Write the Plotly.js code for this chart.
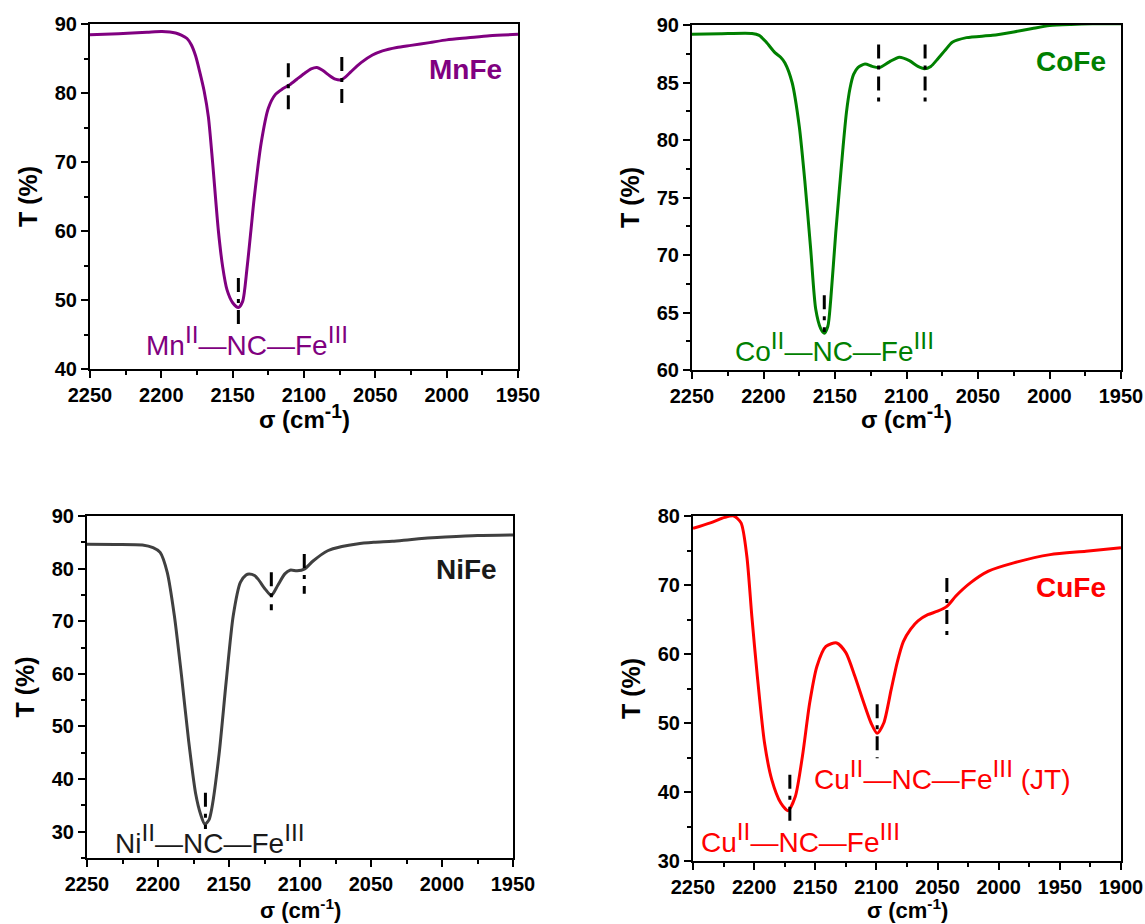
<!DOCTYPE html>
<html>
<head>
<meta charset="utf-8">
<script src="https://cdn.plot.ly/plotly-3.0.1.min.js"></script>
<style>html,body{margin:0;padding:0;background:#fff;}#plot{width:1145px;height:924px;}</style>
</head>
<body>
<div id="plot"></div>
<script>
// ---------- DATA ----------
const mnWn = [2250,2230,2210,2200,2194,2190,2186,2182,2179,2176,2173,2170,2167,2164,2160,2157,2154,2150,2146,2143,2140,2137,2135,2130,2125,2120,2115,2110,2105,2100,2095,2091,2087,2082,2078,2074,2071,2067,2060,2052,2045,2035,2025,2012,2000,1985,1970,1950];
const mnT  = [88.45,88.6,88.8,88.9,88.85,88.7,88.4,87.9,87.0,85.4,83.0,80.3,76.5,69.8,60.0,54.8,51.5,49.6,48.9,49.8,54.5,60.5,64.6,72.8,77.8,79.8,80.6,81.2,82.0,82.8,83.5,83.7,83.3,82.5,82.0,81.9,82.3,83.1,84.4,85.5,86.1,86.6,86.9,87.3,87.7,88.0,88.3,88.5];
const mnMarkX   = [2146, 2111, 2073.5];
const mnMarkTop = [53.2, 84.3, 85.2];
const mnMarkBot = [46.0, 76.8, 77.7];

const coWn = [2250,2230,2208,2203,2198,2192,2188,2185,2180,2175,2171,2167,2163.5,2160,2157.5,2155,2153,2149.5,2144.5,2142,2139.5,2137,2134,2129,2124,2119,2112,2105,2098,2092,2087.5,2083,2078.5,2073,2068,2058,2040,2025,2012,2000,1985,1970,1950];
const coT  = [89.2,89.25,89.27,89.1,88.5,87.6,87.2,86.7,85.0,81.2,76.3,70.5,65.3,63.6,63.2,63.8,66.1,71.9,79.2,82.4,84.5,85.7,86.3,86.6,86.4,86.3,86.8,87.2,86.9,86.4,86.2,86.4,87.0,87.8,88.5,88.9,89.1,89.4,89.7,89.95,90.05,90.1,90.1];
const coMarkX   = [2157.5, 2119.5, 2087];
const coMarkTop = [66.5, 88.3, 88.3];
const coMarkBot = [63.3, 82.8, 83.0];

const niWn = [2250,2230,2211,2203.5,2198.5,2193.5,2188.5,2183.5,2178.4,2173.4,2170,2167,2164,2162,2157,2152,2147,2142,2138,2135.8,2132,2129.5,2124.5,2120.2,2115.7,2110.7,2107,2102,2097,2090.6,2080.5,2070.5,2060,2048,2035,2022.8,2010,1997.7,1975,1950];
const niT  = [84.65,84.6,84.5,84.0,83.1,79.3,71.1,59.8,47.2,37.1,33.3,31.4,32.3,34.6,44.7,58.5,71.1,77.4,78.8,79.0,78.7,78.0,76.1,74.9,76.8,79.0,79.7,79.6,79.9,81.5,83.4,84.2,84.7,85.0,85.2,85.5,85.8,86.0,86.3,86.4];
const niMarkX   = [2166.6, 2120.2, 2097];
const niMarkTop = [37.4, 79.3, 82.8];
const niMarkBot = [30.5, 72.1, 75.2];

const cuWn = [2250,2235.8,2224,2216.6,2210.7,2206,2201.9,2197.4,2191.5,2185.6,2178.2,2172.3,2166.4,2160.5,2154.6,2148.7,2141.3,2132.5,2125,2117.7,2110.3,2104.4,2099.4,2094,2088,2083,2078,2072,2066,2058,2050,2042.4,2035,2023.2,2008.4,1987.7,1958,1928.7,1900];
const cuT  = [78.2,79.0,79.8,80.0,79.0,74.2,65.5,56.8,47.1,41.8,38.4,37.3,39.3,45.2,52.9,58.2,61.1,61.6,60.2,56.8,52.9,50.0,48.5,50.0,54.8,58.8,61.8,63.6,64.8,65.7,66.2,66.9,68.4,70.3,72.0,73.2,74.4,74.9,75.4];
const cuMarkX   = [2170.8, 2099.4, 2042.4];
const cuMarkTop = [42.5, 52.7, 71.0];
const cuMarkBot = [35.5, 44.9, 62.6];

const panelNames = ['MnFe','CoFe','NiFe','CuFe'];
const xTitleTopText = 'σ (cm<sup><span style="font-size:115%">-1</span></sup>)';
const xTitleBotText = 'σ (cm<sup>-1</sup>)';
const yTitle = 'T (%)';
const S = t => '<sup><span style="font-size:125%">' + t + '</span></sup>';
const bondLabels = [
  'Mn' + S('II') + '—NC—Fe' + S('III'),
  'Co' + S('II') + '—NC—Fe' + S('III'),
  'Ni' + S('II') + '—NC—Fe' + S('III'),
  'Cu' + S('II') + '—NC—Fe' + S('III'),
  'Cu' + S('II') + '—NC—Fe' + S('III') + ' (JT)'
];

// ---------- BUILD ----------
const FONT = 'Liberation Sans, Arial, Helvetica, sans-serif';
const colors = ['#800080','#008000','#404040','#ff0000'];
const labelColors = ['#800080','#008000','#1a1a1a','#ff0000'];

const curves = [[mnWn,mnT],[coWn,coT],[niWn,niT],[cuWn,cuT]];
const marks = [[mnMarkX,mnMarkTop,mnMarkBot],[coMarkX,coMarkTop,coMarkBot],[niMarkX,niMarkTop,niMarkBot],[cuMarkX,cuMarkTop,cuMarkBot]];

const traces = [];
curves.forEach((c,i)=>{
  const ax = i===0?'':String(i+1);
  traces.push({x:c[0],y:c[1],mode:'lines',xaxis:'x'+ax,yaxis:'y'+ax,
    line:{color:colors[i],width:3,shape:'spline',smoothing:0.7},hoverinfo:'skip',showlegend:false});
  const m = marks[i];
  m[0].forEach((xv,k)=>{
    traces.push({x:[xv,xv],y:[m[1][k],m[2][k]],mode:'lines',xaxis:'x'+ax,yaxis:'y'+ax,
      line:{color:'#000',width:3,dash:'14px,7px,4px,7px'},hoverinfo:'skip',showlegend:false});
  });
});

function xa(domain, range, anchor){
  return {domain:domain, range:range, anchor:anchor, dtick:50, tick0:2250,
    showline:true, linecolor:'#000', linewidth:2, mirror:true, showgrid:false, zeroline:false,
    ticks:'outside', ticklen:7, tickwidth:2, tickcolor:'#000',
    minor:{ticks:'outside', ticklen:4, tickwidth:2, tickcolor:'#000', dtick:25, showgrid:false},
    tickfont:{family:FONT,size:20,color:'#000',weight:'bold'}};
}
function ya(domain, range, anchor, dt, tick0){
  return {domain:domain, range:range, anchor:anchor, dtick:dt, tick0:tick0,
    showline:true, linecolor:'#000', linewidth:2, mirror:true, showgrid:false, zeroline:false,
    ticks:'outside', ticklen:7, tickwidth:2, tickcolor:'#000',
    minor:{ticks:'outside', ticklen:4, tickwidth:2, tickcolor:'#000', dtick:dt/2, showgrid:false},
    tickfont:{family:FONT,size:20,color:'#000',weight:'bold'},
    title:{text:yTitle, font:{family:FONT,size:25,color:'#000',weight:'bold'}, standoff:10}};
}
const W=1145,H=924;
const px=(a,b)=>[a/W,b/W];
const py=(top,bot)=>[1-bot/H,1-top/H];

const xDomains = [px(90,518), px(692,1121), px(87,513), px(693,1121)];
const layout = {
  width:W, height:H, margin:{l:0,r:0,t:0,b:0}, paper_bgcolor:'#fff', plot_bgcolor:'#fff',
  showlegend:false,
  xaxis: xa(xDomains[0],[2250,1950],'y'),
  yaxis: ya(py(24,369),[40,90],'x',10,0),
  xaxis2: xa(xDomains[1],[2250,1950],'y2'),
  yaxis2: ya(py(25,370),[60,90],'x2',5,0),
  xaxis3: xa(xDomains[2],[2250,1950],'y3'),
  yaxis3: ya(py(516,858),[25,90],'x3',10,0),
  xaxis4: xa(xDomains[3],[2250,1900],'y4'),
  yaxis4: ya(py(516,861),[30,80],'x4',10,0),
  annotations:[]
};

// x-axis titles (placed as paper annotations under each panel)
const xTitleTop = [400, 400, 894, 894];
const xTitleSize = [24, 24, 22, 22];
const xTitleText = [xTitleTopText, xTitleTopText, xTitleBotText, xTitleBotText];
xDomains.forEach((d,i)=>{
  layout.annotations.push({text:xTitleText[i], xref:'paper', yref:'paper', x:(d[0]+d[1])/2, y:1-xTitleTop[i]/H,
    xanchor:'center', yanchor:'top', showarrow:false, borderpad:0,
    font:{family:FONT,size:xTitleSize[i],color:'#000',weight:'bold'}});
});

const nameXY = [[1987,83.4],[1985,86.8],[1983,79.8],[1941,69.7]];
nameXY.forEach((p,i)=>{
  const ax = i===0?'':String(i+1);
  layout.annotations.push({text:panelNames[i], x:p[0], y:p[1], xref:'x'+ax, yref:'y'+ax,
    showarrow:false, xanchor:'center', yanchor:'middle',
    font:{family:FONT,size:28,color:labelColors[i],weight:'bold'}});
});
const bondPos = [[2212,44.0,0,0],[2221,62.0,1,1],[2232,28.6,2,2],[2245,33.4,3,3],[2153,42.4,3,4]];
bondPos.forEach(p=>{
  const i=p[2]; const ax = i===0?'':String(i+1);
  layout.annotations.push({text:bondLabels[p[3]], x:p[0], y:p[1], xref:'x'+ax, yref:'y'+ax,
    showarrow:false, xanchor:'left', yanchor:'middle',
    font:{family:FONT,size:28,color:labelColors[i]}});
});

Plotly.newPlot('plot', traces, layout, {staticPlot:true});
</script>
</body>
</html>
